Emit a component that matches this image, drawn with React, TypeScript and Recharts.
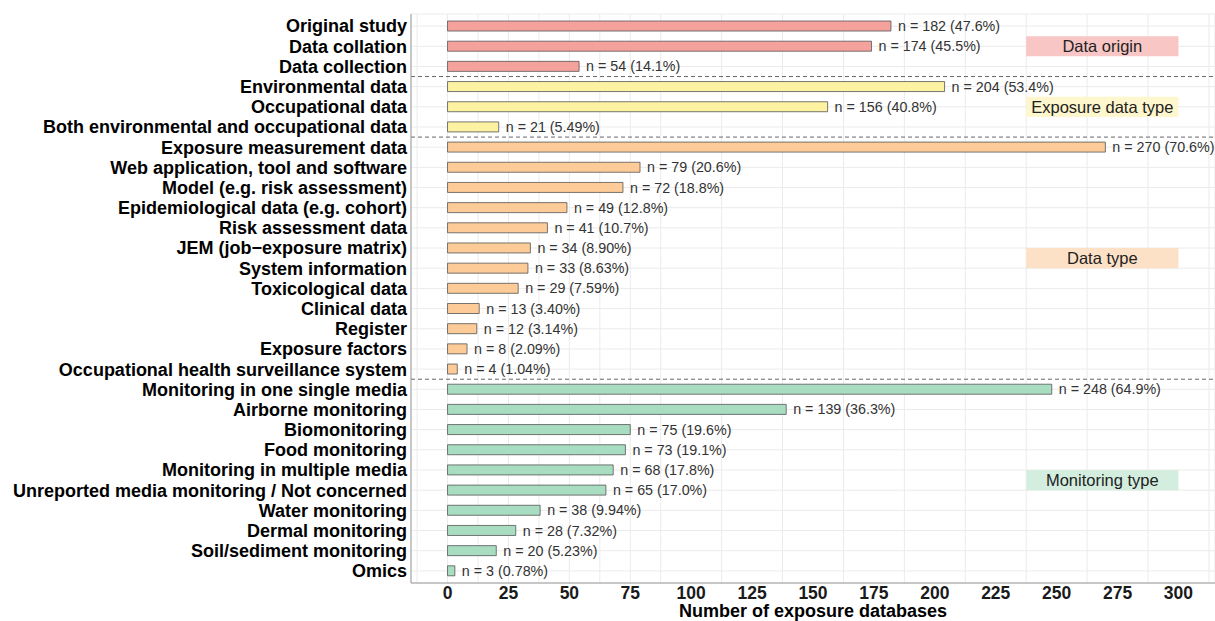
import React from 'react';
import { BarChart, Bar, XAxis, YAxis, CartesianGrid, ReferenceLine, ReferenceArea, LabelList, Cell } from 'recharts';

const categories = [
  'Original study', 'Data collation', 'Data collection',
  'Environmental data', 'Occupational data', 'Both environmental and occupational data',
  'Exposure measurement data', 'Web application, tool and software', 'Model (e.g. risk assessment)',
  'Epidemiological data (e.g. cohort)', 'Risk assessment data', 'JEM (job\u2212exposure matrix)',
  'System information', 'Toxicological data', 'Clinical data', 'Register', 'Exposure factors',
  'Occupational health surveillance system',
  'Monitoring in one single media', 'Airborne monitoring', 'Biomonitoring', 'Food monitoring',
  'Monitoring in multiple media', 'Unreported media monitoring / Not concerned', 'Water monitoring',
  'Dermal monitoring', 'Soil/sediment monitoring', 'Omics',
];
const counts = [182, 174, 54, 204, 156, 21, 270, 79, 72, 49, 41, 34, 33, 29, 13, 12, 8, 4, 248, 139, 75, 73, 68, 65, 38, 28, 20, 3];
const percents = ['47.6%', '45.5%', '14.1%', '53.4%', '40.8%', '5.49%', '70.6%', '20.6%', '18.8%', '12.8%', '10.7%', '8.90%', '8.63%', '7.59%', '3.40%', '3.14%', '2.09%', '1.04%', '64.9%', '36.3%', '19.6%', '19.1%', '17.8%', '17.0%', '9.94%', '7.32%', '5.23%', '0.78%'];
const groupOf = [0, 0, 0, 1, 1, 1, 2, 2, 2, 2, 2, 2, 2, 2, 2, 2, 2, 2, 3, 3, 3, 3, 3, 3, 3, 3, 3, 3];
const groupNames = ['Data origin', 'Exposure data type', 'Data type', 'Monitoring type'];
const groupCenters = [1, 4, 11.5, 22.5];
const separators = [2.5, 5.5, 17.5];
const xTicks = [0, 25, 50, 75, 100, 125, 150, 175, 200, 225, 250, 275, 300];
const gridTicks = [-12.5, 0, 12.5, 25, 37.5, 50, 62.5, 75, 87.5, 100, 112.5, 125, 137.5, 150, 162.5, 175, 187.5, 200, 212.5, 225, 237.5, 250, 262.5, 275, 287.5, 300, 312.5];
const barColors = ['#F6A29C', '#FDF1A2', '#FCCB98', '#A9DDC2'];
const boxColors = ['#F8C6C4', '#FEF6CC', '#FDE1C7', '#D3EEDF'];

const indices = categories.map((_, i) => i);
const data = categories.map((c, i) => ({
  idx: i,
  name: c,
  value: counts[i],
  label: `n = ${counts[i]} (${percents[i]})`,
  group: groupOf[i],
}));

const FONT = '"Liberation Sans", Arial, sans-serif';

const renderBarLabel = (props: any) => {
  const { x, y, width, height, value } = props;
  return (
    <text
      x={Number(x) + Number(width) + 7}
      y={Number(y) + Number(height) / 2}
      dy="0.355em"
      fill="#333"
      fontSize={14.3}
      fontFamily={FONT}
      textAnchor="start"
    >
      {value}
    </text>
  );
};

export default function App() {
  return (
    <div style={{ position: 'absolute', left: 0, top: 0, background: '#fff' }}>
      <BarChart
        layout="vertical"
        width={1215}
        height={621}
        data={data}
        margin={{ top: 14, right: 0, bottom: 0, left: 0 }}
        style={{ fontFamily: FONT }}
      >
        <XAxis xAxisId="grid" type="number" domain={[-15, 315]} ticks={gridTicks} hide allowDataOverflow />
        <CartesianGrid xAxisId="grid" stroke="#ebebeb" strokeWidth={1} />
        <XAxis
          xAxisId="top"
          orientation="top"
          type="number"
          domain={[-15, 315]}
          allowDataOverflow
          height={0}
          tick={false}
          tickLine={false}
          axisLine={{ stroke: '#999', strokeWidth: 1 }}
        />
        <XAxis
          type="number"
          domain={[-15, 315]}
          allowDataOverflow
          ticks={xTicks}
          interval={0}
          height={38}
          tickSize={4}
          tickMargin={0}
          tickLine={false}
          axisLine={{ stroke: '#999', strokeWidth: 1 }}
          tick={{ fill: '#1a1a1a', fontSize: 17.5, fontWeight: 'bold', fontFamily: FONT }}
          label={{ value: 'Number of exposure databases', position: 'insideBottom', offset: 4, fill: '#000', fontSize: 18, fontWeight: 'bold', fontFamily: FONT }}
        />
        <YAxis
          type="number"
          dataKey="idx"
          domain={[-0.6, 27.6]}
          ticks={indices}
          interval={0}
          width={411}
          tickSize={4}
          tickMargin={0}
          tickLine={false}
          axisLine={{ stroke: '#999', strokeWidth: 1 }}
          tickFormatter={(v: number) => categories[v]}
          tick={{ fill: '#000', fontSize: 18, fontWeight: 'bold', fontFamily: FONT }}
          allowDataOverflow
        />
        {groupNames.map((g, k) => (
          <ReferenceArea
            key={g}
            x1={237.5}
            x2={300}
            y1={groupCenters[k] - 0.5}
            y2={groupCenters[k] + 0.5}
            fill={boxColors[k]}
            fillOpacity={1}
            stroke="none"
            label={{ value: g, position: 'center', fill: '#222', fontSize: 16.5, fontFamily: FONT }}
          />
        ))}
        {separators.map((s) => (
          <ReferenceLine key={s} y={s} stroke="#666" strokeDasharray="4 3" strokeWidth={1} />
        ))}
        <Bar dataKey="value" barSize={10} stroke="#555" strokeWidth={0.8} isAnimationActive={false}>
          {data.map((d) => (
            <Cell key={d.name} fill={barColors[d.group]} />
          ))}
          <LabelList dataKey="label" content={renderBarLabel} />
        </Bar>
      </BarChart>
    </div>
  );
}
